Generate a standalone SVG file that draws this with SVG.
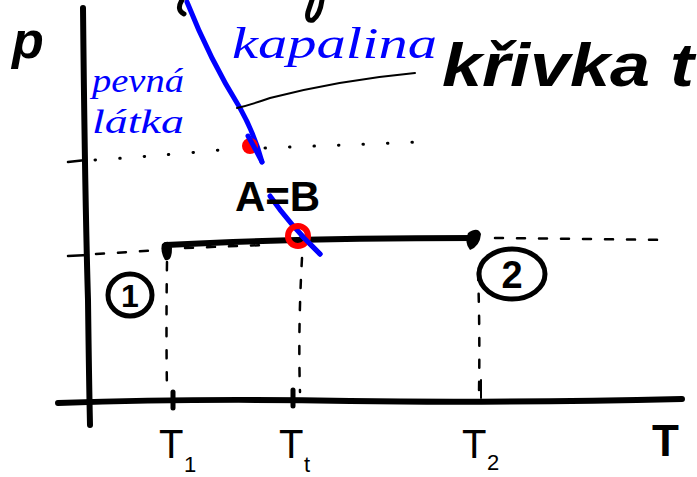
<svg xmlns="http://www.w3.org/2000/svg" width="697" height="477" viewBox="0 0 697 477">
<style>
.ax{fill:none;stroke:#000;stroke-width:6;stroke-linecap:round;stroke-linejoin:round}
.thin{fill:none;stroke:#000;stroke-width:2;stroke-linecap:round}
.dash{fill:none;stroke:#000;stroke-width:2.5;stroke-linecap:round;stroke-dasharray:8 14}
.dot{fill:none;stroke:#000;stroke-width:3;stroke-linecap:round;stroke-dasharray:0.5 24}
.blue{fill:none;stroke:#0000ff;stroke-width:5;stroke-linecap:round}
.bt{font-family:"Liberation Serif",serif;font-style:italic;fill:#0000ff}
.kt{font-family:"Liberation Sans",sans-serif;fill:#000}
</style>
<rect width="697" height="477" fill="#fff"/>
<g id="axes">
<path class="ax" d="M83 8 Q85 200 88 300 Q89 380 90 425"/>
<path class="ax" d="M58 403 Q200 398 350 401 Q500 403 682 399"/>
<path class="thin" d="M68 162 L86 160 M68 256 L88 255" style="stroke-width:2.5"/>
<path class="ax" d="M173 392 L173 408 M293 390 L293 406" style="stroke-width:5"/>
<path class="thin" d="M481 380 L481 398"/>
</g>
<g id="guides">
<path class="dot" d="M95 160 Q170 155 240 148"/>
<path class="dot" d="M265 148 L420 142"/>
<path class="dash" d="M96 254 L160 250"/>
<path class="dash" d="M185 248 L265 245"/>
<path class="dash" d="M495 238 L668 240"/>
<path class="dash" d="M167 262 Q166 330 167 392"/>
<path class="dash" d="M302 258 Q298 330 300 392"/>
<path class="dash" d="M478 272 Q480 330 479 392"/>
</g>
<g id="isobar">
<path class="ax" d="M166 245 Q300 238 475 238"/>
<path d="M162 244 Q170 238 172 248 Q172 262 165 260 Q160 252 162 244Z" fill="#000"/>
<path d="M468 233 Q478 226 481 234 Q480 246 470 250 Q464 243 468 233Z" fill="#000"/>
</g>
<g id="curve">
<path class="blue" d="M187 2 Q210 60 240 108 Q255 135 262 162"/>
<circle cx="250" cy="146" r="8" fill="#ff0000"/>
<path class="blue" d="M248 136 Q256 150 262 162"/>
<path class="blue" d="M270 196 Q290 225 320 254"/>
<circle cx="298" cy="236" r="10" fill="none" stroke="#ff0000" stroke-width="6"/>
<path class="blue" d="M302 236 Q312 246 320 254"/>
</g>
<g id="leader">
<path class="thin" d="M237 108 Q250 105 270 98 Q340 80 415 73"/>
</g>
<g id="topfrag">
<path class="ax" d="M182 0 Q176 10 184 14" style="stroke-width:5"/>
<path class="ax" d="M322 0 Q320 15 313 20 Q306 22 308 12 Q310 6 312 0" style="stroke-width:5"/>
</g>
<g id="labels">
<text x="12" y="58" class="kt" font-size="52" font-weight="bold" font-style="italic">p</text>
<text x="92" y="92" class="bt" font-size="34" textLength="92" lengthAdjust="spacingAndGlyphs">pevná</text>
<text x="92" y="133" class="bt" font-size="34" textLength="92" lengthAdjust="spacingAndGlyphs">látka</text>
<text x="232" y="58" class="bt" font-size="44" textLength="205" lengthAdjust="spacingAndGlyphs">kapalina</text>
<text x="442" y="86" class="kt" font-size="62" font-weight="bold" font-style="italic" textLength="252" lengthAdjust="spacingAndGlyphs">křivka t</text>
<text x="235" y="211" class="kt" font-size="42" font-weight="bold">A=B</text>
<text x="159" y="458" class="kt" font-size="40">T</text><text x="184" y="472" class="kt" font-size="22">1</text>
<text x="279" y="458" class="kt" font-size="40">T</text><text x="304" y="472" class="kt" font-size="22">t</text>
<text x="462" y="458" class="kt" font-size="40">T</text><text x="487" y="470" class="kt" font-size="22">2</text>
<text x="652" y="456" class="kt" font-size="44" font-weight="bold">T</text>
</g>
<g id="state1">
<ellipse cx="130" cy="295" rx="22" ry="21" fill="none" stroke="#000" stroke-width="5"/>
<text x="130" y="307" class="kt" font-size="32" font-weight="bold" text-anchor="middle">1</text>
</g>
<g id="state2">
<ellipse cx="512" cy="274" rx="33" ry="25" fill="none" stroke="#000" stroke-width="5"/>
<text x="512" y="288" class="kt" font-size="38" font-weight="bold" text-anchor="middle">2</text>
</g>
</svg>
